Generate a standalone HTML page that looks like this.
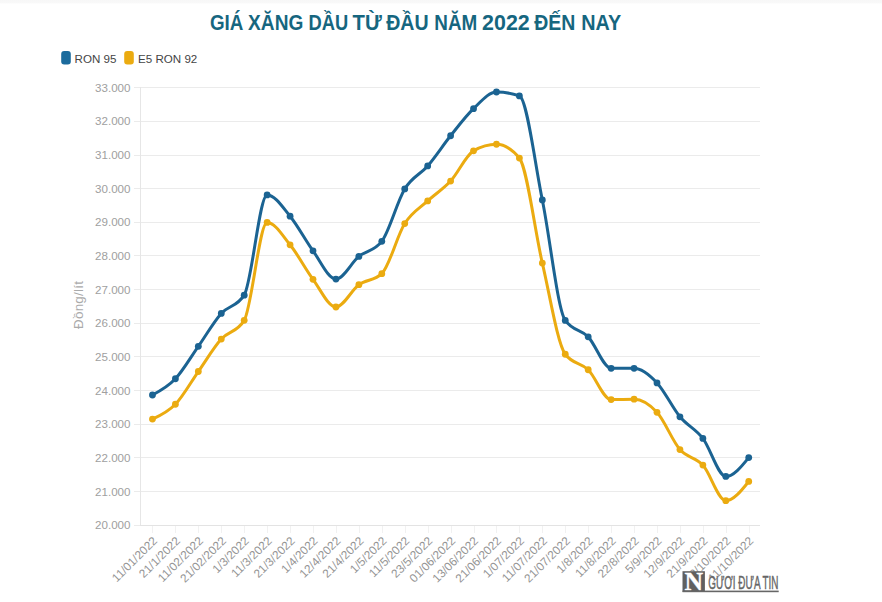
<!DOCTYPE html>
<html lang="vi"><head><meta charset="utf-8"><title>Giá xăng dầu từ đầu năm 2022 đến nay</title>
<style>
html,body{margin:0;padding:0;background:#fff;}
body{width:882px;height:602px;overflow:hidden;position:relative;}
.top{position:absolute;left:0;top:0;width:882px;height:4px;background:linear-gradient(#f7f7f7,#f9f9f9 70%,#fff);}
svg{position:absolute;left:0;top:0;}
.t{font-family:"Liberation Sans",Arial,sans-serif;}
</style></head><body>
<div class="top"></div>
<svg width="882" height="602" viewBox="0 0 882 602">
<text class="t" y="29.6" font-size="21.4" font-weight="bold" fill="#16667f"><tspan x="209.90" textLength="33.40" lengthAdjust="spacingAndGlyphs">GIÁ</tspan> <tspan x="248.10" textLength="55.20" lengthAdjust="spacingAndGlyphs">XĂNG</tspan> <tspan x="308.50" textLength="39.70" lengthAdjust="spacingAndGlyphs">DẦU</tspan> <tspan x="352.50" textLength="29.20" lengthAdjust="spacingAndGlyphs">TỪ</tspan> <tspan x="386.20" textLength="42.40" lengthAdjust="spacingAndGlyphs">ĐẦU</tspan> <tspan x="434.30" textLength="43.00" lengthAdjust="spacingAndGlyphs">NĂM</tspan> <tspan x="482.10" textLength="47.60" lengthAdjust="spacingAndGlyphs">2022</tspan> <tspan x="534.20" textLength="41.10" lengthAdjust="spacingAndGlyphs">ĐẾN</tspan> <tspan x="581.30" textLength="39.90" lengthAdjust="spacingAndGlyphs">NAY</tspan></text>
<rect x="61.2" y="51" width="9.6" height="13.6" rx="3" ry="3" fill="#1b6b9d"/>
<text class="t" x="74.6" y="62.9" font-size="11.6" fill="#444">RON 95</text>
<rect x="124.2" y="51" width="9.6" height="13.6" rx="3" ry="3" fill="#ebab10"/>
<text class="t" x="138" y="62.9" font-size="11.6" fill="#444">E5 RON 92</text>
<path d="M 134 87.5 L 760 87.5" stroke="#ebebeb" stroke-width="1" fill="none"/>
<path d="M 134 121.5 L 760 121.5" stroke="#ebebeb" stroke-width="1" fill="none"/>
<path d="M 134 155.5 L 760 155.5" stroke="#ebebeb" stroke-width="1" fill="none"/>
<path d="M 134 188.5 L 760 188.5" stroke="#ebebeb" stroke-width="1" fill="none"/>
<path d="M 134 222.5 L 760 222.5" stroke="#ebebeb" stroke-width="1" fill="none"/>
<path d="M 134 255.5 L 760 255.5" stroke="#ebebeb" stroke-width="1" fill="none"/>
<path d="M 134 289.5 L 760 289.5" stroke="#ebebeb" stroke-width="1" fill="none"/>
<path d="M 134 323.5 L 760 323.5" stroke="#ebebeb" stroke-width="1" fill="none"/>
<path d="M 134 356.5 L 760 356.5" stroke="#ebebeb" stroke-width="1" fill="none"/>
<path d="M 134 390.5 L 760 390.5" stroke="#ebebeb" stroke-width="1" fill="none"/>
<path d="M 134 424.5 L 760 424.5" stroke="#ebebeb" stroke-width="1" fill="none"/>
<path d="M 134 457.5 L 760 457.5" stroke="#ebebeb" stroke-width="1" fill="none"/>
<path d="M 134 491.5 L 760 491.5" stroke="#ebebeb" stroke-width="1" fill="none"/>
<path d="M 134 525.5 L 760 525.5" stroke="#ebebeb" stroke-width="1" fill="none"/>
<path d="M 140.5 87 L 140.5 525" stroke="#e6e6e6" stroke-width="1" fill="none"/>
<path d="M 140 525.5 L 760 525.5" stroke="#e3e3e3" stroke-width="1" fill="none"/>
<path d="M 152.5 526 L 152.5 533" stroke="#f1f1f1" stroke-width="1" fill="none"/>
<path d="M 175.5 526 L 175.5 533" stroke="#f1f1f1" stroke-width="1" fill="none"/>
<path d="M 198.5 526 L 198.5 533" stroke="#f1f1f1" stroke-width="1" fill="none"/>
<path d="M 221.5 526 L 221.5 533" stroke="#f1f1f1" stroke-width="1" fill="none"/>
<path d="M 244.5 526 L 244.5 533" stroke="#f1f1f1" stroke-width="1" fill="none"/>
<path d="M 267.5 526 L 267.5 533" stroke="#f1f1f1" stroke-width="1" fill="none"/>
<path d="M 290.5 526 L 290.5 533" stroke="#f1f1f1" stroke-width="1" fill="none"/>
<path d="M 313.5 526 L 313.5 533" stroke="#f1f1f1" stroke-width="1" fill="none"/>
<path d="M 336.5 526 L 336.5 533" stroke="#f1f1f1" stroke-width="1" fill="none"/>
<path d="M 359.5 526 L 359.5 533" stroke="#f1f1f1" stroke-width="1" fill="none"/>
<path d="M 382.5 526 L 382.5 533" stroke="#f1f1f1" stroke-width="1" fill="none"/>
<path d="M 405.5 526 L 405.5 533" stroke="#f1f1f1" stroke-width="1" fill="none"/>
<path d="M 428.5 526 L 428.5 533" stroke="#f1f1f1" stroke-width="1" fill="none"/>
<path d="M 451.5 526 L 451.5 533" stroke="#f1f1f1" stroke-width="1" fill="none"/>
<path d="M 474.5 526 L 474.5 533" stroke="#f1f1f1" stroke-width="1" fill="none"/>
<path d="M 496.5 526 L 496.5 533" stroke="#f1f1f1" stroke-width="1" fill="none"/>
<path d="M 519.5 526 L 519.5 533" stroke="#f1f1f1" stroke-width="1" fill="none"/>
<path d="M 542.5 526 L 542.5 533" stroke="#f1f1f1" stroke-width="1" fill="none"/>
<path d="M 565.5 526 L 565.5 533" stroke="#f1f1f1" stroke-width="1" fill="none"/>
<path d="M 588.5 526 L 588.5 533" stroke="#f1f1f1" stroke-width="1" fill="none"/>
<path d="M 611.5 526 L 611.5 533" stroke="#f1f1f1" stroke-width="1" fill="none"/>
<path d="M 634.5 526 L 634.5 533" stroke="#f1f1f1" stroke-width="1" fill="none"/>
<path d="M 657.5 526 L 657.5 533" stroke="#f1f1f1" stroke-width="1" fill="none"/>
<path d="M 680.5 526 L 680.5 533" stroke="#f1f1f1" stroke-width="1" fill="none"/>
<path d="M 703.5 526 L 703.5 533" stroke="#f1f1f1" stroke-width="1" fill="none"/>
<path d="M 726.5 526 L 726.5 533" stroke="#f1f1f1" stroke-width="1" fill="none"/>
<path d="M 749.5 526 L 749.5 533" stroke="#f1f1f1" stroke-width="1" fill="none"/>
<g class="t" font-size="11.6" fill="#a0a0a0">
<text x="130.5" y="91.5" text-anchor="end">33.000</text>
<text x="130.5" y="125.2" text-anchor="end">32.000</text>
<text x="130.5" y="158.9" text-anchor="end">31.000</text>
<text x="130.5" y="192.5" text-anchor="end">30.000</text>
<text x="130.5" y="226.2" text-anchor="end">29.000</text>
<text x="130.5" y="259.9" text-anchor="end">28.000</text>
<text x="130.5" y="293.6" text-anchor="end">27.000</text>
<text x="130.5" y="327.3" text-anchor="end">26.000</text>
<text x="130.5" y="360.9" text-anchor="end">25.000</text>
<text x="130.5" y="394.6" text-anchor="end">24.000</text>
<text x="130.5" y="428.3" text-anchor="end">23.000</text>
<text x="130.5" y="462.0" text-anchor="end">22.000</text>
<text x="130.5" y="495.7" text-anchor="end">21.000</text>
<text x="130.5" y="529.3" text-anchor="end">20.000</text>
</g>
<text class="t" font-size="13.4" fill="#aaa" text-anchor="middle" textLength="48" lengthAdjust="spacing" transform="translate(83 305) rotate(-90)">Đồng/lít</text>
<g class="t" font-size="11.8" fill="#939393">
<text x="158.0" y="541.5" text-anchor="end" transform="rotate(-45 158.0 541.5)">11/01/2022</text>
<text x="180.9" y="541.5" text-anchor="end" transform="rotate(-45 180.9 541.5)">21/1/2022</text>
<text x="203.8" y="541.5" text-anchor="end" transform="rotate(-45 203.8 541.5)">11/02/2022</text>
<text x="226.8" y="541.5" text-anchor="end" transform="rotate(-45 226.8 541.5)">21/02/2022</text>
<text x="249.7" y="541.5" text-anchor="end" transform="rotate(-45 249.7 541.5)">1/3/2022</text>
<text x="272.6" y="541.5" text-anchor="end" transform="rotate(-45 272.6 541.5)">11/3/2022</text>
<text x="295.6" y="541.5" text-anchor="end" transform="rotate(-45 295.6 541.5)">21/3/2022</text>
<text x="318.5" y="541.5" text-anchor="end" transform="rotate(-45 318.5 541.5)">1/4/2022</text>
<text x="341.4" y="541.5" text-anchor="end" transform="rotate(-45 341.4 541.5)">12/4/2022</text>
<text x="364.4" y="541.5" text-anchor="end" transform="rotate(-45 364.4 541.5)">21/4/2022</text>
<text x="387.3" y="541.5" text-anchor="end" transform="rotate(-45 387.3 541.5)">1/5/2022</text>
<text x="410.2" y="541.5" text-anchor="end" transform="rotate(-45 410.2 541.5)">11/5/2022</text>
<text x="433.2" y="541.5" text-anchor="end" transform="rotate(-45 433.2 541.5)">23/5/2022</text>
<text x="456.1" y="541.5" text-anchor="end" transform="rotate(-45 456.1 541.5)">01/06/2022</text>
<text x="479.0" y="541.5" text-anchor="end" transform="rotate(-45 479.0 541.5)">13/06/2022</text>
<text x="502.0" y="541.5" text-anchor="end" transform="rotate(-45 502.0 541.5)">21/06/2022</text>
<text x="524.9" y="541.5" text-anchor="end" transform="rotate(-45 524.9 541.5)">1/07/2022</text>
<text x="547.8" y="541.5" text-anchor="end" transform="rotate(-45 547.8 541.5)">11/07/2022</text>
<text x="570.8" y="541.5" text-anchor="end" transform="rotate(-45 570.8 541.5)">21/07/2022</text>
<text x="593.7" y="541.5" text-anchor="end" transform="rotate(-45 593.7 541.5)">1/8/2022</text>
<text x="616.6" y="541.5" text-anchor="end" transform="rotate(-45 616.6 541.5)">11/8/2022</text>
<text x="639.6" y="541.5" text-anchor="end" transform="rotate(-45 639.6 541.5)">22/8/2022</text>
<text x="662.5" y="541.5" text-anchor="end" transform="rotate(-45 662.5 541.5)">5/9/2022</text>
<text x="685.4" y="541.5" text-anchor="end" transform="rotate(-45 685.4 541.5)">12/9/2022</text>
<text x="708.4" y="541.5" text-anchor="end" transform="rotate(-45 708.4 541.5)">21/9/2022</text>
<text x="731.3" y="541.5" text-anchor="end" transform="rotate(-45 731.3 541.5)">3/10/2022</text>
<text x="754.2" y="541.5" text-anchor="end" transform="rotate(-45 754.2 541.5)">11/10/2022</text>
</g>
<path d="M 152.47 419.11 C 160.11 415.65 167.76 412.19 175.40 404.26 C 183.04 396.33 190.69 382.39 198.33 371.52 C 205.98 360.66 213.62 347.58 221.27 339.06 C 228.91 330.53 236.56 332.83 244.20 320.36 C 251.84 307.90 259.49 222.42 267.13 222.42 C 274.78 222.42 282.42 235.30 290.07 244.79 C 297.71 254.27 305.36 268.94 313.00 279.31 C 320.64 289.68 328.29 306.99 335.93 306.99 C 343.58 306.99 351.22 290.25 358.87 284.70 C 366.51 279.14 374.16 281.03 381.80 273.68 C 389.44 266.34 397.09 235.66 404.73 223.53 C 412.38 211.41 420.02 208.02 427.67 200.93 C 435.31 193.85 442.96 189.38 450.60 181.03 C 458.24 172.68 465.89 155.25 473.53 150.85 C 481.18 146.45 488.82 144.25 496.47 144.25 C 504.11 144.25 511.76 148.85 519.40 158.06 C 527.04 167.27 534.69 230.41 542.33 263.11 C 549.98 295.81 557.62 343.92 565.27 354.25 C 572.91 364.57 580.56 362.18 588.20 369.74 C 595.84 377.30 603.49 399.61 611.13 399.61 C 618.78 399.61 626.42 399.21 634.07 399.21 C 641.71 399.21 649.36 403.91 657.00 412.31 C 664.64 420.71 672.29 440.80 679.93 449.59 C 687.58 458.39 695.22 456.58 702.87 465.09 C 710.51 473.60 718.16 500.65 725.80 500.65 C 733.44 500.65 741.09 491.05 748.73 481.45" stroke="#ebab10" stroke-width="3" fill="none" stroke-linejoin="round" stroke-linecap="round"/>
<circle cx="152.47" cy="419.11" r="3.4" fill="#ebab10"/>
<circle cx="175.40" cy="404.26" r="3.4" fill="#ebab10"/>
<circle cx="198.33" cy="371.52" r="3.4" fill="#ebab10"/>
<circle cx="221.27" cy="339.06" r="3.4" fill="#ebab10"/>
<circle cx="244.20" cy="320.36" r="3.4" fill="#ebab10"/>
<circle cx="267.13" cy="222.42" r="3.4" fill="#ebab10"/>
<circle cx="290.07" cy="244.79" r="3.4" fill="#ebab10"/>
<circle cx="313.00" cy="279.31" r="3.4" fill="#ebab10"/>
<circle cx="335.93" cy="306.99" r="3.4" fill="#ebab10"/>
<circle cx="358.87" cy="284.70" r="3.4" fill="#ebab10"/>
<circle cx="381.80" cy="273.68" r="3.4" fill="#ebab10"/>
<circle cx="404.73" cy="223.53" r="3.4" fill="#ebab10"/>
<circle cx="427.67" cy="200.93" r="3.4" fill="#ebab10"/>
<circle cx="450.60" cy="181.03" r="3.4" fill="#ebab10"/>
<circle cx="473.53" cy="150.85" r="3.4" fill="#ebab10"/>
<circle cx="496.47" cy="144.25" r="3.4" fill="#ebab10"/>
<circle cx="519.40" cy="158.06" r="3.4" fill="#ebab10"/>
<circle cx="542.33" cy="263.11" r="3.4" fill="#ebab10"/>
<circle cx="565.27" cy="354.25" r="3.4" fill="#ebab10"/>
<circle cx="588.20" cy="369.74" r="3.4" fill="#ebab10"/>
<circle cx="611.13" cy="399.61" r="3.4" fill="#ebab10"/>
<circle cx="634.07" cy="399.21" r="3.4" fill="#ebab10"/>
<circle cx="657.00" cy="412.31" r="3.4" fill="#ebab10"/>
<circle cx="679.93" cy="449.59" r="3.4" fill="#ebab10"/>
<circle cx="702.87" cy="465.09" r="3.4" fill="#ebab10"/>
<circle cx="725.80" cy="500.65" r="3.4" fill="#ebab10"/>
<circle cx="748.73" cy="481.45" r="3.4" fill="#ebab10"/>
<path d="M 152.47 395.00 C 160.11 390.94 167.76 386.88 175.40 378.76 C 183.04 370.65 190.69 357.22 198.33 346.33 C 205.98 335.45 213.62 321.99 221.27 313.46 C 228.91 304.93 236.56 307.36 244.20 295.17 C 251.84 282.98 259.49 194.94 267.13 194.94 C 274.78 194.94 282.42 206.91 290.07 216.22 C 297.71 225.54 305.36 240.33 313.00 250.81 C 320.64 261.29 328.29 279.11 335.93 279.11 C 343.58 279.11 351.22 262.70 358.87 256.41 C 366.51 250.11 374.16 251.38 381.80 241.32 C 389.44 231.26 397.09 201.50 404.73 188.94 C 412.38 176.39 420.02 174.84 427.67 165.97 C 435.31 157.11 442.96 145.31 450.60 135.76 C 458.24 126.22 465.89 115.98 473.53 108.68 C 481.18 101.39 488.82 92.01 496.47 92.01 C 504.11 92.01 511.76 93.32 519.40 95.92 C 527.04 98.52 534.69 162.53 542.33 199.96 C 549.98 237.38 557.62 309.53 565.27 320.46 C 572.91 331.40 580.56 328.89 588.20 336.87 C 595.84 344.84 603.49 368.32 611.13 368.32 C 618.78 368.32 626.42 368.32 634.07 368.32 C 641.71 368.32 649.36 374.83 657.00 382.91 C 664.64 390.98 672.29 407.54 679.93 416.79 C 687.58 426.04 695.22 428.47 702.87 438.41 C 710.51 448.36 718.16 476.47 725.80 476.47 C 733.44 476.47 741.09 467.02 748.73 457.58" stroke="#1b6392" stroke-width="3" fill="none" stroke-linejoin="round" stroke-linecap="round"/>
<circle cx="152.47" cy="395.00" r="3.4" fill="#1b6392"/>
<circle cx="175.40" cy="378.76" r="3.4" fill="#1b6392"/>
<circle cx="198.33" cy="346.33" r="3.4" fill="#1b6392"/>
<circle cx="221.27" cy="313.46" r="3.4" fill="#1b6392"/>
<circle cx="244.20" cy="295.17" r="3.4" fill="#1b6392"/>
<circle cx="267.13" cy="194.94" r="3.4" fill="#1b6392"/>
<circle cx="290.07" cy="216.22" r="3.4" fill="#1b6392"/>
<circle cx="313.00" cy="250.81" r="3.4" fill="#1b6392"/>
<circle cx="335.93" cy="279.11" r="3.4" fill="#1b6392"/>
<circle cx="358.87" cy="256.41" r="3.4" fill="#1b6392"/>
<circle cx="381.80" cy="241.32" r="3.4" fill="#1b6392"/>
<circle cx="404.73" cy="188.94" r="3.4" fill="#1b6392"/>
<circle cx="427.67" cy="165.97" r="3.4" fill="#1b6392"/>
<circle cx="450.60" cy="135.76" r="3.4" fill="#1b6392"/>
<circle cx="473.53" cy="108.68" r="3.4" fill="#1b6392"/>
<circle cx="496.47" cy="92.01" r="3.4" fill="#1b6392"/>
<circle cx="519.40" cy="95.92" r="3.4" fill="#1b6392"/>
<circle cx="542.33" cy="199.96" r="3.4" fill="#1b6392"/>
<circle cx="565.27" cy="320.46" r="3.4" fill="#1b6392"/>
<circle cx="588.20" cy="336.87" r="3.4" fill="#1b6392"/>
<circle cx="611.13" cy="368.32" r="3.4" fill="#1b6392"/>
<circle cx="634.07" cy="368.32" r="3.4" fill="#1b6392"/>
<circle cx="657.00" cy="382.91" r="3.4" fill="#1b6392"/>
<circle cx="679.93" cy="416.79" r="3.4" fill="#1b6392"/>
<circle cx="702.87" cy="438.41" r="3.4" fill="#1b6392"/>
<circle cx="725.80" cy="476.47" r="3.4" fill="#1b6392"/>
<circle cx="748.73" cy="457.58" r="3.4" fill="#1b6392"/>
<g>
<rect x="682.5" y="571.2" width="22.4" height="20.6" fill="#606060"/>
<text x="693.8" y="589.9" font-family="'Liberation Serif',serif" font-weight="bold" font-size="25.5" fill="#fff" stroke="#fff" stroke-width="0.3" text-anchor="middle" textLength="18.6" lengthAdjust="spacingAndGlyphs">N</text>
<text x="708.2" y="589" font-family="'Liberation Sans',sans-serif" font-size="18.6" fill="#666" stroke="#666" stroke-width="0.45" textLength="70.3" lengthAdjust="spacingAndGlyphs">GƯƠI ĐƯA TIN</text>
<rect x="682.5" y="590.6" width="96.2" height="1.6" fill="#666"/>
</g>
</svg>
</body></html>
